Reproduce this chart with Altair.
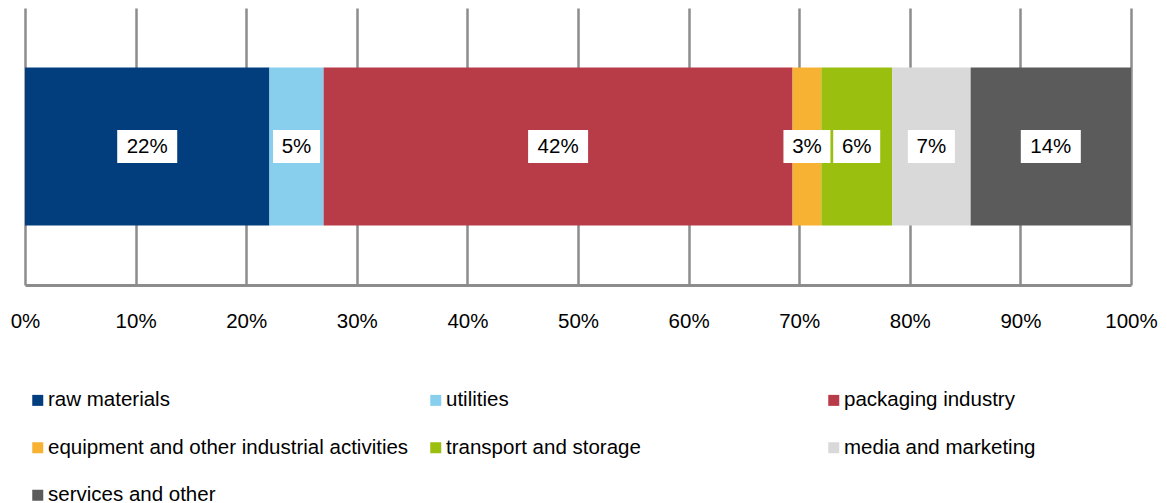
import altair as alt
import pandas as pd

categories = [
    "raw materials",
    "utilities",
    "packaging industry",
    "equipment and other industrial activities",
    "transport and storage",
    "media and marketing",
    "services and other",
]
values = [22.1, 4.9, 42.4, 2.6, 6.4, 7.1, 14.5]
labels = ["22%", "5%", "42%", "3%", "6%", "7%", "14%"]
colors = ["#023e7e", "#88cfee", "#b73c48", "#f7b133", "#9abf0f", "#d9d9d9", "#5b5b5b"]
x_ticks = [0, 10, 20, 30, 40, 50, 60, 70, 80, 90, 100]

df = pd.DataFrame({
    "category": categories,
    "value": values,
    "label": labels,
    "order": list(range(len(categories))),
    "row": ["all"] * len(categories),
})

FONT = "Liberation Sans"

base = alt.Chart(df).transform_stack(
    stack="value", as_=["v0", "v1"], groupby=["row"],
    sort=[alt.SortField("order", order="ascending")],
).transform_calculate(
    mid="(datum.v0 + datum.v1) / 2", nchar="length(datum.label)"
)

yenc = alt.Y("row:N", axis=None, scale=alt.Scale(paddingInner=0, paddingOuter=0))

xenc = alt.X(
    "v0:Q",
    scale=alt.Scale(domain=[0, 100], nice=False),
    axis=alt.Axis(
        values=x_ticks, labelExpr="datum.value + '%'", title=None,
        grid=True, gridColor="#8c8c8c", gridWidth=2.5,
        domain=True, domainColor="#8c8c8c", domainWidth=3,
        ticks=False, labelFont=FONT, labelFontSize=20.5, labelColor="#000000",
        labelPadding=26, labelFlush=False,
    ),
)

bars = base.mark_bar(size=158).encode(
    x=xenc,
    x2="v1:Q",
    y=yenc,
    color=alt.Color(
        "category:N",
        scale=alt.Scale(domain=categories, range=colors),
        legend=alt.Legend(
            title=None, orient="none", legendX=2.5, legendY=382,
            direction="horizontal", columns=3, gridAlign="all",
            symbolType="square", symbolSize=121, symbolStrokeWidth=0,
            labelFont=FONT, labelFontSize=20.5, labelColor="#000000",
            labelLimit=600, labelOffset=0, columnPadding=17, rowPadding=26.5,
            padding=0,
        ),
    ),
    order=alt.Order("order:Q"),
)

box_short = base.transform_filter("datum.nchar == 2").mark_bar(
    size=33, color="white", xOffset=-23.5, x2Offset=23.5
).encode(x="mid:Q", x2="mid:Q", y=yenc)

box_long = base.transform_filter("datum.nchar > 2").mark_bar(
    size=33, color="white", xOffset=-30, x2Offset=30
).encode(x="mid:Q", x2="mid:Q", y=yenc)

text = base.mark_text(
    font=FONT, fontSize=20.5, color="#000000", baseline="middle", align="center"
).encode(x="mid:Q", y=yenc, text="label:N")

chart = alt.layer(bars, box_short, box_long, text).properties(
    width=1106, height=277,
    padding={"left": 2, "top": 0, "right": 0, "bottom": 0},
).configure_view(stroke=None)

chart.save("out.html", embed_options={"renderer": "svg", "actions": False})
